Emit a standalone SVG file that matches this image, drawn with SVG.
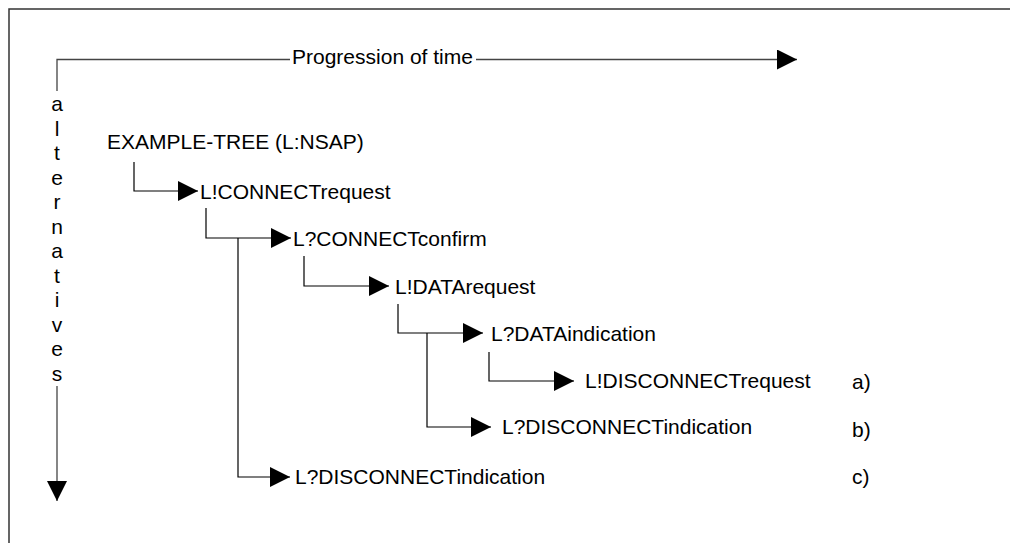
<svg xmlns="http://www.w3.org/2000/svg" width="1010" height="543" viewBox="0 0 1010 543">
<defs>
<marker id="ah" markerUnits="userSpaceOnUse" markerWidth="20" markerHeight="20" refX="20" refY="10" orient="auto" viewBox="0 0 20 20">
<path d="M0,0 L20,10 L0,20 z" fill="#000"/>
</marker>
<style>
text{font-family:"Liberation Sans",Arial,sans-serif;font-size:21px;fill:#000}
.frame{stroke:#333;stroke-width:1.5;fill:none}
.axis{stroke:#444;stroke-width:1.3;fill:none}
.conn{stroke:#000;stroke-width:1.2;fill:none}
.arr{marker-end:url(#ah)}
.v{text-anchor:middle}
</style>
</defs>
<rect width="1010" height="543" fill="#fff"/>
<path class="frame" d="M9,543 V9 H1010"/>
<g id="time-axis">
<path class="axis" d="M57,91 V59.5 H290"/>
<path class="axis arr" d="M476,59.5 H797"/>
<text x="292" y="64">Progression of time</text>
</g>
<g id="alternatives-axis">
<text class="v" x="57" y="111">a</text>
<text class="v" x="57" y="135.5">l</text>
<text class="v" x="57" y="160">t</text>
<text class="v" x="57" y="184.5">e</text>
<text class="v" x="57" y="209">r</text>
<text class="v" x="57" y="233.5">n</text>
<text class="v" x="57" y="258">a</text>
<text class="v" x="57" y="282.5">t</text>
<text class="v" x="57" y="307">i</text>
<text class="v" x="57" y="331.5">v</text>
<text class="v" x="57" y="356">e</text>
<text class="v" x="57" y="380.5">s</text>
<path class="axis arr" d="M57,386 V501"/>
</g>
<g id="connectors">
<path class="conn arr" d="M134,162 V191 H198"/>
<path class="conn arr" d="M206,208 V238 H291"/>
<path class="conn arr" d="M238,238 V477 H290"/>
<path class="conn arr" d="M304,256 V286 H389"/>
<path class="conn arr" d="M398,304 V333 H483"/>
<path class="conn arr" d="M427,333 V427 H491"/>
<path class="conn arr" d="M489,352 V381 H574"/>
</g>
<g id="n-root"><text x="107" y="149">EXAMPLE-TREE (L:NSAP)</text></g>
<g id="n-connreq"><text x="200" y="198.5">L!CONNECTrequest</text></g>
<g id="n-connconf"><text x="293" y="245.5">L?CONNECTconfirm</text></g>
<g id="n-datareq"><text x="395" y="293.5">L!DATArequest</text></g>
<g id="n-dataind"><text x="491" y="341">L?DATAindication</text></g>
<g id="n-discreq"><text x="585" y="388">L!DISCONNECTrequest</text></g>
<g id="n-discind-b"><text x="502" y="434">L?DISCONNECTindication</text></g>
<g id="n-discind-c"><text x="295" y="484">L?DISCONNECTindication</text></g>
<g id="labels">
<text x="852" y="389">a)</text>
<text x="852" y="437">b)</text>
<text x="852" y="484">c)</text>
</g>
</svg>
